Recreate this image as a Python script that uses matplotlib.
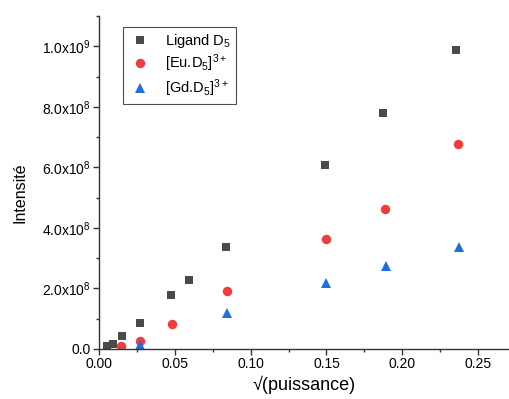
import math
import matplotlib
matplotlib.use("Agg")
import matplotlib.pyplot as plt
from matplotlib.ticker import MultipleLocator, FuncFormatter

plt.rcParams['font.family'] = ['Liberation Sans', 'DejaVu Sans']
plt.rcParams['mathtext.default'] = 'regular'

# Data
ligand_x = [0.0049, 0.0089, 0.0150, 0.0269, 0.0474, 0.0593, 0.0839, 0.1490, 0.1870, 0.2357]
ligand_y = [0.9e7, 1.7e7, 4.4e7, 8.7e7, 1.79e8, 2.28e8, 3.37e8, 6.07e8, 7.79e8, 9.87e8]

eu_x = [0.0145, 0.0269, 0.0480, 0.0844, 0.1496, 0.1886, 0.2368]
eu_y = [0.9e7, 2.7e7, 8.2e7, 1.90e8, 3.65e8, 4.64e8, 6.77e8]

gd_x = [0.0269, 0.0844, 0.1498, 0.1890, 0.2375]
gd_y = [1.3e7, 1.19e8, 2.17e8, 2.74e8, 3.38e8]

labels = [r'Ligand D$_5$', r'[Eu.D$_5$]$^{3+}$', r'[Gd.D$_5$]$^{3+}$']

W, H = 510, 399
fig = plt.figure(figsize=(W / 100, H / 100), dpi=100)
left, right, bottom, top = 99.3, 509, 349, 16
ax = fig.add_axes([left / W, (H - bottom) / H, (right - left) / W, (bottom - top) / H])

ax.plot(ligand_x, ligand_y, linestyle='none', marker='s', markersize=6,
        color='#4a4a4a', markeredgewidth=0, label=labels[0])
ax.plot(eu_x, eu_y, linestyle='none', marker='o', markersize=6.8,
        color='#f03c3c', markeredgewidth=0, label=labels[1])
ax.plot(gd_x, gd_y, linestyle='none', marker='^', markersize=7.2,
        color='#1c6fdf', markeredgewidth=0, label=labels[2])

ax.set_xlim(0, 0.2705)
ax.set_ylim(0, 1.1e9)

ax.spines['top'].set_visible(False)
ax.spines['right'].set_visible(False)
for s in ('left', 'bottom'):
    ax.spines[s].set_linewidth(1.0)
    ax.spines[s].set_color('#333333')

ax.xaxis.set_major_locator(MultipleLocator(0.05))
ax.xaxis.set_minor_locator(MultipleLocator(0.025))
ax.yaxis.set_major_locator(MultipleLocator(2e8))
ax.yaxis.set_minor_locator(MultipleLocator(1e8))

ax.xaxis.set_major_formatter(FuncFormatter(lambda v, p: f"{v:.2f}"))


def yfmt(v, p):
    if abs(v) < 1:
        return "0.0"
    e = int(math.floor(math.log10(abs(v)) + 1e-9))
    m = v / 10 ** e
    return rf"{m:.1f}x10$^{{{e}}}$"


ax.yaxis.set_major_formatter(FuncFormatter(yfmt))

ax.tick_params(which='major', direction='out', length=4, width=1.0, color='#333333',
               labelsize=10, pad=2)
ax.tick_params(which='minor', direction='out', length=2.2, width=1.0, color='#333333')

ax.set_xlabel('√(puissance)', fontsize=13, labelpad=3)
ax.set_ylabel('Intensité', fontsize=11.5)
ax.yaxis.set_label_coords(-0.175, 0.47)

leg = ax.legend(loc='upper left', bbox_to_anchor=(0.058, 0.968), borderaxespad=0,
                fontsize=10.5, frameon=True, fancybox=False, shadow=False,
                handletextpad=0.9, labelspacing=0.2, borderpad=0.35,
                handlelength=1.6)
leg.get_frame().set_edgecolor('#222222')
leg.get_frame().set_linewidth(0.8)

fig.savefig('out.png', dpi=100)
